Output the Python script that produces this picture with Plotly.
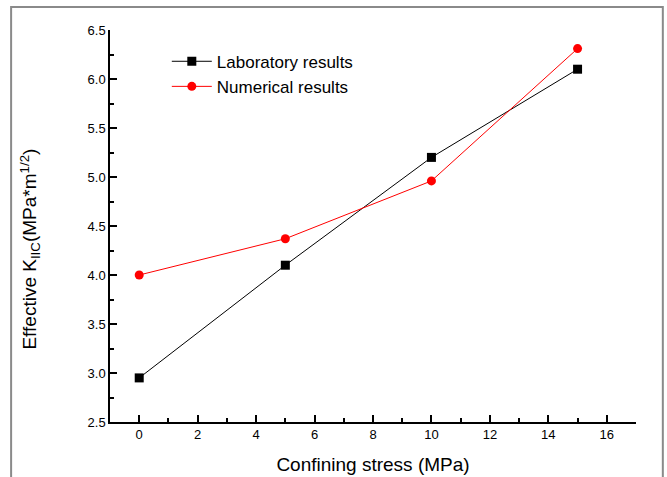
import plotly.graph_objects as go

# Confining stress (MPa) and effective mode-II fracture toughness
stress = [0, 5, 10, 15]
lab_k = [2.95, 4.10, 5.20, 6.10]
num_k = [4.00, 4.37, 4.96, 6.31]

x_ticks = [0, 2, 4, 6, 8, 10, 12, 14, 16]
y_ticks = [2.5, 3.0, 3.5, 4.0, 4.5, 5.0, 5.5, 6.0, 6.5]

font_family = "Liberation Sans, Arial, sans-serif"

fig = go.Figure()
fig.add_trace(go.Scatter(
    x=stress, y=lab_k, mode="lines+markers", name="Laboratory results",
    line=dict(color="black", width=1),
    marker=dict(symbol="square", size=9, color="black"),
))
fig.add_trace(go.Scatter(
    x=stress, y=num_k, mode="lines+markers", name="Numerical results",
    line=dict(color="red", width=1),
    marker=dict(symbol="circle", size=9, color="red"),
))

axis_common = dict(
    showline=True, linecolor="black", linewidth=1.5, mirror=False,
    ticks="inside", ticklen=7, tickwidth=1.5, tickcolor="black",
    showgrid=False, zeroline=False, automargin=False,
    tickfont=dict(family=font_family, size=13, color="black"),
)

fig.update_xaxes(
    range=[-1, 17], tickvals=x_ticks,
    minor=dict(ticks="inside", ticklen=4, tickwidth=1.5, tickcolor="black", dtick=1, tick0=0),
    title=dict(text="Confining stress (MPa)", font=dict(family=font_family, size=19, color="black"), standoff=16),
    **axis_common,
)
fig.update_yaxes(
    range=[2.5, 6.5], tickvals=y_ticks, tickformat=".1f",
    minor=dict(ticks="inside", ticklen=4, tickwidth=1.5, tickcolor="black", dtick=0.25, tick0=2.5),
    **axis_common,
)

# Y-axis title, placed slightly below the plot's vertical centre
fig.add_annotation(
    text="Effective K<sub>IIC</sub>(MPa*m<sup>1/2</sup>)",
    xref="paper", yref="paper", x=-0.152, y=0.44,
    xanchor="center", yanchor="middle", textangle=-90, showarrow=False,
    font=dict(family=font_family, size=19, color="black"),
)

# Gray frame around the figure
fig.add_shape(
    type="rect", xref="paper", yref="paper",
    x0=-0.188, x1=1.051, y0=-0.3, y1=1.0587,
    line=dict(color="#8a8a8a", width=2), fillcolor="rgba(0,0,0,0)", layer="below",
)

fig.update_layout(
    width=667, height=477,
    margin=dict(l=110, r=31, t=30, b=55),
    paper_bgcolor="white", plot_bgcolor="white",
    showlegend=True,
    legend=dict(
        x=0.108, y=0.965, xanchor="left", yanchor="top",
        bgcolor="rgba(0,0,0,0)", borderwidth=0,
        font=dict(family=font_family, size=17, color="black"),
        tracegroupgap=0, itemwidth=40,
    ),
    font=dict(family=font_family),
)

fig.write_html("out.html")
